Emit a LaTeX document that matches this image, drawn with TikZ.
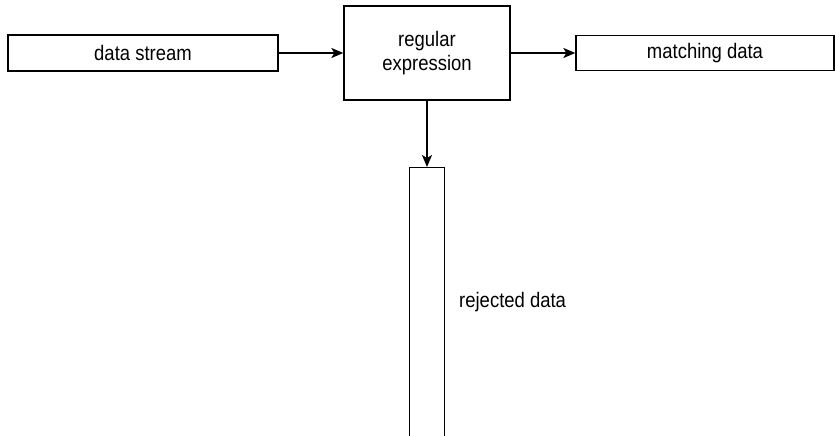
\documentclass[tikz,border=0pt]{standalone}
\usepackage{fontspec}
\setmainfont[FakeStretch=0.88]{Liberation Sans}
\usetikzlibrary{arrows.meta}
\begin{document}
\begin{tikzpicture}[x=1pt,y=-1pt,
  box/.style={draw=black, line width=1.3pt, fill=white, inner sep=0pt, align=center},
  lbl/.style={font=\fontsize{21}{24}\selectfont},
  conn/.style={line width=1.6pt, -{Stealth[length=12pt,width=10pt,inset=3pt]}}]
\useasboundingbox (0,0) rectangle (835,436);
\node[box, lbl, minimum width=270pt, minimum height=36pt] (ds) at (143,53) {data stream};
\node[box, lbl, minimum width=166pt, minimum height=94pt] (re) at (427,53) {regular\\expression};
\node[box, lbl, minimum width=258pt, minimum height=35pt] (md) at (705,53) {matching data};
\node[box, minimum width=35pt, minimum height=300pt, anchor=north] (rj) at (427,167) {};
\node[lbl, anchor=west, inner sep=0pt] (rjl) at (459,302) {rejected data};
\draw[conn] (ds.east) -- (re.west);
\draw[conn] (re.east) -- (md.west);
\draw[conn] (re.south) -- (rj.north);
\end{tikzpicture}
\end{document}
